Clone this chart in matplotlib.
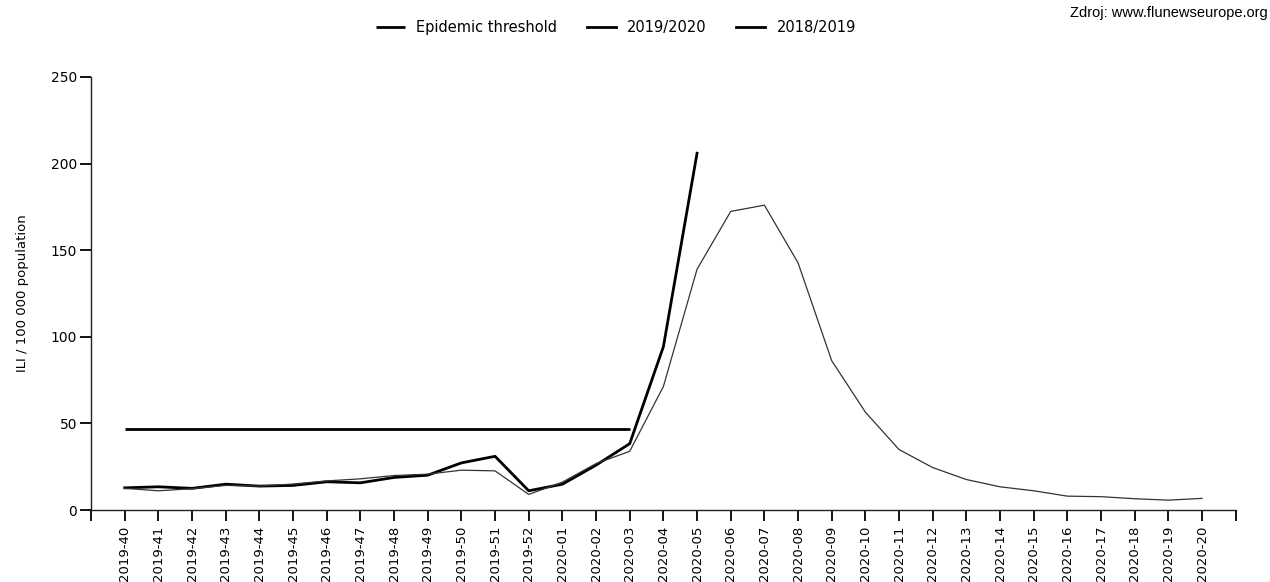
import matplotlib
matplotlib.use("Agg")
import matplotlib.pyplot as plt

weeks = ['2019-40', '2019-41', '2019-42', '2019-43', '2019-44', '2019-45', '2019-46',
         '2019-47', '2019-48', '2019-49', '2019-50', '2019-51', '2019-52', '2020-01',
         '2020-02', '2020-03', '2020-04', '2020-05', '2020-06', '2020-07', '2020-08',
         '2020-09', '2020-10', '2020-11', '2020-12', '2020-13', '2020-14', '2020-15',
         '2020-16', '2020-17', '2020-18', '2020-19', '2020-20']

threshold = [47] * 16  # 2019-40 .. 2020-03

season_1920 = [12.8, 13.4, 12.5, 14.9, 13.8, 14.2, 16.3, 15.7, 18.8, 20.1, 27.2, 31.0,
               11.1, 14.9, 25.9, 38.3, 94.3, 206]

season_1819 = [12.5, 11.1, 12.3, 14.2, 13.8, 15.0, 16.8, 18.0, 19.9, 20.7, 23.0, 22.6,
               9.0, 16.1, 26.8, 33.9, 71.3, 139, 172.4, 176, 142.7, 86.2, 56.5, 34.9,
               24.5, 17.6, 13.4, 11.1, 8.0, 7.7, 6.5, 5.7, 6.7]

fig = plt.figure(figsize=(12.7, 5.82), dpi=100)
ax = fig.add_axes([0.0717, 0.1237, 0.9013, 0.744])

x_thr = list(range(len(threshold)))
x_1920 = list(range(len(season_1920)))
x_1819 = list(range(len(season_1819)))

ax.plot(x_thr, threshold, color='black', lw=2.0, label='Epidemic threshold', solid_capstyle='butt')
ax.plot(x_1920, season_1920, color='black', lw=2.0, label='2019/2020')
ax.plot(x_1819, season_1819, color='#333333', lw=0.9, label='2018/2019')

ax.set_xlim(-1, 33)
ax.set_ylim(0, 250)
ax.set_yticks([0, 50, 100, 150, 200, 250])
ax.set_xticks(list(range(-1, 34)))
ax.set_xticklabels([''] + weeks + [''], rotation=90, fontsize=9.5)
ax.tick_params(axis='y', labelsize=10, length=8, width=1.3, direction='out', pad=2)
ax.tick_params(axis='x', length=8, width=1.3, direction='out', pad=3)

for s in ['top', 'right']:
    ax.spines[s].set_visible(False)
for s in ['left', 'bottom']:
    ax.spines[s].set_linewidth(1.0)
    ax.spines[s].set_color('#222222')

ax.set_ylabel('ILI / 100 000 population', fontsize=9.5, labelpad=16)

leg = fig.legend(loc='center', bbox_to_anchor=(0.485, 0.953), ncol=3, frameon=False,
                 handlelength=2.0, columnspacing=2.0, handletextpad=0.8,
                 prop={'family': ['Liberation Sans Narrow', 'DejaVu Sans'], 'size': 10.5})
for h in leg.get_lines():
    h.set_linewidth(2.0)
    h.set_color('black')

fig.text(0.998, 0.978, 'Zdroj: www.flunewseurope.org', ha='right', va='center',
         fontsize=10.5, family=['Liberation Sans', 'DejaVu Sans'])

fig.savefig('out.png', dpi=100)
